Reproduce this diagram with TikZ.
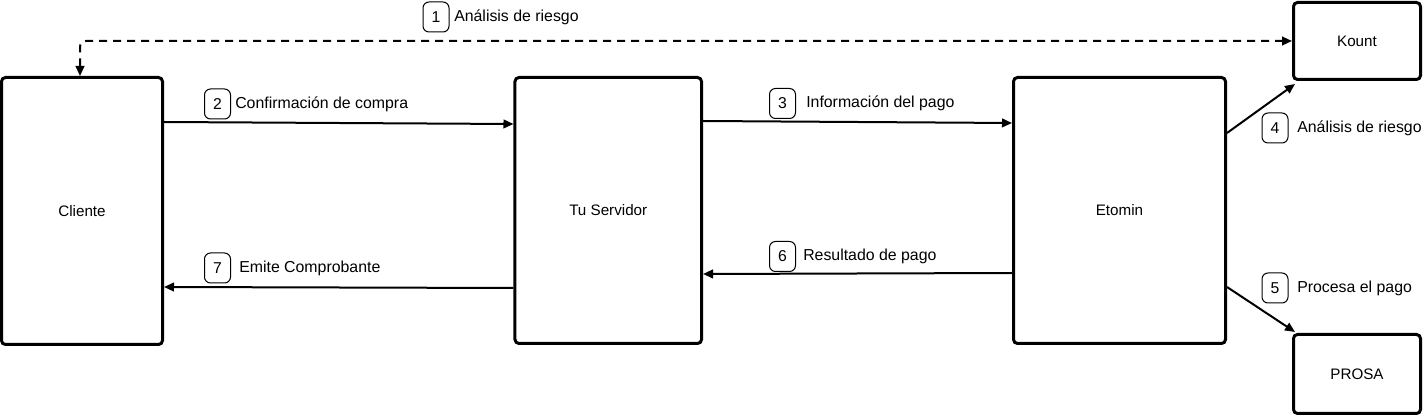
\documentclass[tikz,border=0pt]{standalone}
\usepackage{fontspec}
\setmainfont{Liberation Sans}
\usetikzlibrary{arrows.meta,calc}
\tikzset{
  bigbox/.style={draw, line width=2.25pt, rounded corners=3pt, inner sep=0pt, font=\fontsize{11.4}{13}\selectfont},
  flow/.style={line width=1.5pt, -{Triangle[length=7.5pt,width=6.5pt]}},
  dflow/.style={line width=1.5pt, dash pattern=on 6pt off 4.5pt, rounded corners=4.5pt, {Triangle[length=7.5pt,width=6.5pt]}-{Triangle[length=7.5pt,width=6.5pt]}},
  badge/.style={draw, line width=0.75pt, rounded corners=4.5pt, minimum width=19.5pt, minimum height=22.5pt, inner sep=0pt, font=\fontsize{11.8}{13}\selectfont},
  lbl/.style={anchor=west, inner sep=0pt, font=\fontsize{11.9}{13}\selectfont}
}
\begin{document}
\begin{tikzpicture}[x=0.75pt,y=-0.75pt]
\useasboundingbox (0,0) rectangle (1428,416);
\node[bigbox, minimum width=120.75pt, minimum height=200.25pt] (cli) at (82,211) {Cliente};
\node[bigbox, minimum width=139.9pt, minimum height=199.5pt] (srv) at (608.25,210.5) {Tu Servidor};
\node[bigbox, minimum width=159pt, minimum height=199.5pt] (eto) at (1119.5,210.5) {Etomin};
\node[bigbox, minimum width=95.25pt, minimum height=57.75pt] (kou) at (1357,41) {Kount};
\node[bigbox, minimum width=95.25pt, minimum height=59.25pt] (pro) at (1357,374) {PROSA};

% 1 dashed
\draw[dflow] ($(cli.north)+(-2,0)$) |- (kou.west);
\node[badge] (b1) at (436,17) {1};
\node[lbl] (t1) at (454,17) {Análisis de riesgo};

% 2
\draw[flow] (cli.east |- 0,122) -- (srv.west |- 0,124);
\node[badge] (b2) at (217.5,104) {2};
\node[lbl] (t2) at (235,104) {Confirmación de compra};

% 3
\draw[flow] (srv.east |- 0,121) -- (eto.west |- 0,123);
\node[badge] (b3) at (782.5,103.5) {3};
\node[lbl] (t3) at (806,103.5) {Información del pago};

% 4
\draw[flow] (eto.east |- 0,133) -- ($(kou.south west)+(3,3)$);
\node[badge] (b4) at (1275,128) {4};
\node[lbl] (t4) at (1297,128) {Análisis de riesgo};

% 5
\draw[flow] (eto.east |- 0,287) -- ($(pro.north west)+(3,-1)$);
\node[badge] (b5) at (1275,288) {5};
\node[lbl] (t5) at (1297,288) {Procesa el pago};

% 6
\draw[flow] (eto.west |- 0,273) -- (srv.east |- 0,274);
\node[badge] (b6) at (782.5,256.5) {6};
\node[lbl] (t6) at (803,256.5) {Resultado de pago};

% 7
\draw[flow] (srv.west |- 0,288) -- (cli.east |- 0,287);
\node[badge] (b7) at (217.5,268) {7};
\node[lbl] (t7) at (239,268) {Emite Comprobante};
\end{tikzpicture}
\end{document}
